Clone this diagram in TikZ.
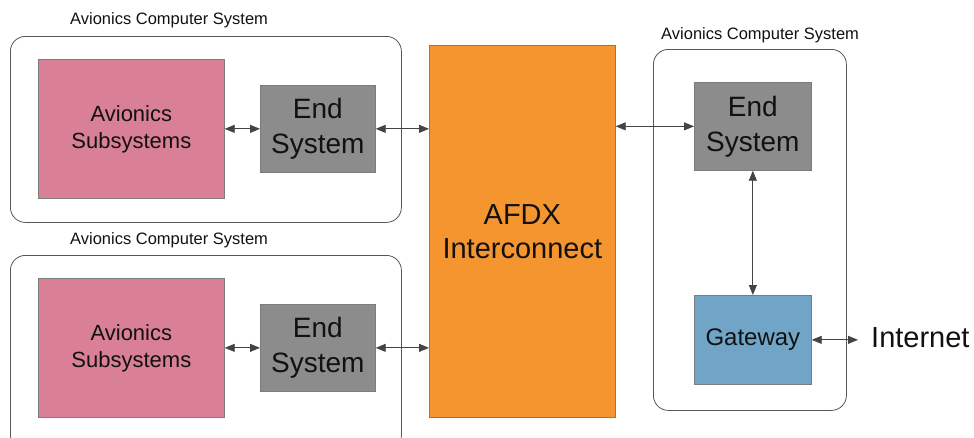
\documentclass[tikz,border=0pt]{standalone}
\usepackage{fontspec}
\setmainfont{Liberation Sans}
\usetikzlibrary{arrows.meta,calc}
\definecolor{subsys}{HTML}{D98096}
\definecolor{endsys}{HTML}{8C8C8C}
\definecolor{afdxfill}{HTML}{F59530}
\definecolor{gwfill}{HTML}{70A5C8}
\definecolor{edge}{HTML}{444444}
\definecolor{txt}{HTML}{111111}
\tikzset{
  frame/.style={draw=edge!90, line width=0.8pt, rounded corners=15pt, fill=white, anchor=north west, inner sep=0pt},
  blockbox/.style={draw=edge!70, line width=0.7pt, anchor=north west, inner sep=0pt, align=center, text=txt},
  caption/.style={font=\fontsize{16.5}{18}\selectfont, text=txt, inner sep=0pt},
  link/.style={draw=edge, line width=0.9pt, {Triangle[length=10pt,width=8pt]}-{Triangle[length=10pt,width=8pt]}},
}
\begin{document}
\begin{tikzpicture}[x=1pt,y=-1pt]
\useasboundingbox (0,0) rectangle (974,437);
\clip (0,0) rectangle (974,437);

% containers
\node[frame, minimum width=391pt, minimum height=186pt] (acs1) at (10,36) {};
\node[frame, minimum width=391pt, minimum height=195pt] (acs2) at (10,255) {};
\node[frame, minimum width=193pt, minimum height=361pt] (acs3) at (653,49) {};

\node[caption, anchor=west] (cap1) at (70,20) {Avionics Computer System};
\node[caption, anchor=west] (cap2) at (70,240) {Avionics Computer System};
\node[caption, anchor=west] (cap3) at (661,35) {Avionics Computer System};

% upper computer system
\node[blockbox, fill=subsys, minimum width=186pt, minimum height=139pt,
      font=\fontsize{22}{27}\selectfont] (sub1) at (38,59) {Avionics\\Subsystems};
\node[blockbox, fill=endsys, minimum width=115pt, minimum height=87pt,
      font=\fontsize{28}{35}\selectfont] (es1) at (260,85) {End\\System};

% lower computer system
\node[blockbox, fill=subsys, minimum width=186pt, minimum height=139pt,
      font=\fontsize{22}{27}\selectfont] (sub2) at (38,278) {Avionics\\Subsystems};
\node[blockbox, fill=endsys, minimum width=115pt, minimum height=87pt,
      font=\fontsize{28}{35}\selectfont] (es2) at (260,304) {End\\System};

% switch fabric
\node[blockbox, fill=afdxfill, minimum width=186pt, minimum height=372pt,
      font=\fontsize{29}{34}\selectfont] (afdx) at (429,45) {AFDX\\Interconnect};

% right computer system
\node[blockbox, fill=endsys, minimum width=117pt, minimum height=88pt,
      font=\fontsize{28}{35}\selectfont] (es3) at (694,82) {End\\System};
\node[blockbox, fill=gwfill, minimum width=117pt, minimum height=89pt,
      font=\fontsize{24}{28}\selectfont] (gw) at (694,295) {Gateway};
\node[anchor=west, inner xsep=13pt, inner ysep=0pt, text=txt,
      font=\fontsize{29}{34}\selectfont] (inet) at (858,338) {Internet};

% connections
\draw[link] (sub1.east) -- (es1.west);
\draw[link] (es1.east) -- (es1.east -| afdx.west);
\draw[link] (sub2.east) -- (es2.west);
\draw[link] (es2.east) -- (es2.east -| afdx.west);
\draw[link] (es3.west -| afdx.east) -- (es3.west);
\draw[link] (es3.south) -- (gw.north);
\draw[link] (gw.east) -- (gw.east -| inet.west);
\end{tikzpicture}
\end{document}
